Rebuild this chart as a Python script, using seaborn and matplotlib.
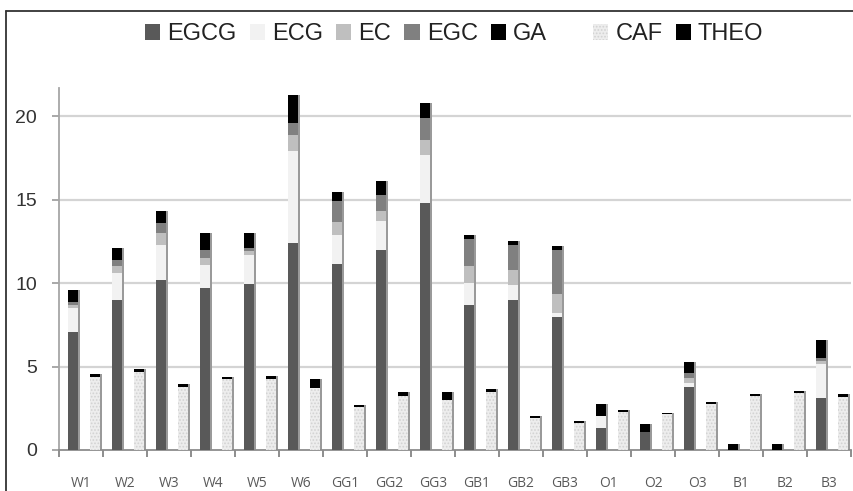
import numpy as np
import pandas as pd
import matplotlib
matplotlib.use("Agg")
import matplotlib.pyplot as plt
from matplotlib.patches import Patch
from matplotlib.lines import Line2D
import seaborn as sns

# ---- data ----
categories = ["W1", "W2", "W3", "W4", "W5", "W6", "GG1", "GG2", "GG3",
              "GB1", "GB2", "GB3", "O1", "O2", "O3", "B1", "B2", "B3"]
EGCG = [7.1, 9.0, 10.2, 9.7, 9.96, 12.4, 11.16, 12.0, 14.8, 8.7, 9.0, 8.0, 1.3, 1.1, 3.8, 0.0, 0.0, 3.1]
ECG = [1.4, 1.6, 2.1, 1.4, 1.74, 5.5, 1.7, 1.7, 2.9, 1.3, 0.9, 0.2, 0.76, 0.0, 0.24, 0.0, 0.0, 2.04]
EC = [0.2, 0.4, 0.7, 0.4, 0.2, 1.0, 0.8, 0.6, 0.9, 1.0, 0.9, 1.14, 0.0, 0.0, 0.26, 0.0, 0.0, 0.2]
EGC = [0.2, 0.4, 0.6, 0.5, 0.2, 0.7, 1.24, 1.0, 1.3, 1.66, 1.46, 2.66, 0.0, 0.0, 0.3, 0.0, 0.0, 0.16]
GA = [0.7, 0.7, 0.74, 1.0, 0.9, 1.7, 0.56, 0.8, 0.9, 0.24, 0.28, 0.24, 0.68, 0.44, 0.66, 0.34, 0.34, 1.1]
CAF = [4.4, 4.7, 3.8, 4.25, 4.26, 3.7, 2.55, 3.26, 3.0, 3.49, 1.92, 1.62, 2.28, 2.14, 2.74, 3.22, 3.42, 3.19]
THEO = [0.15, 0.15, 0.15, 0.15, 0.2, 0.54, 0.15, 0.2, 0.46, 0.15, 0.12, 0.12, 0.12, 0.1, 0.12, 0.12, 0.12, 0.15]
y_ticks = [0, 5, 10, 15, 20]

# ---- style ----
sns.set_theme(style="white")
plt.rcParams["font.family"] = ["Liberation Sans", "DejaVu Sans"]
plt.rcParams["hatch.linewidth"] = 0.8

colors = {"EGCG": "#595959", "ECG": "#f2f2f2", "EC": "#bfbfbf", "EGC": "#808080",
          "GA": "#000000", "CAF": "#ededed", "THEO": "#000000"}
hatch_color = "#d2d2d2"

fig = plt.figure(figsize=(8.54, 4.91), dpi=100)
ax = fig.add_axes([59 / 854, 41 / 491, 792 / 854, 362 / 491])

n = len(categories)
idx = np.arange(n)
left_pos = idx - 0.182
right_pos = idx + 0.318
bar_w = 0.227

# gridlines
for v in y_ticks[1:]:
    ax.axhline(v, color="#d4d4d4", lw=1.6, zorder=0)


def stacked(positions, layers):
    cum = np.zeros(n)
    tops = []
    for name, vals in layers:
        cum = cum + np.asarray(vals, float)
        tops.append((name, cum.copy()))
    # thin shaded right side (pseudo-3D edge)
    sdf = pd.DataFrame({"x": positions + 0.035, "y": tops[-1][1]})
    sns.barplot(data=sdf, x="x", y="y", native_scale=True, width=bar_w,
                color="#9a9a9a", saturation=1, errorbar=None, linewidth=0,
                ax=ax, zorder=2)
    # draw tallest cumulative first, then shorter ones over it
    for name, top in reversed(tops):
        df = pd.DataFrame({"x": positions, "y": top})
        n_before = len(ax.patches)
        sns.barplot(data=df, x="x", y="y", native_scale=True, width=bar_w,
                    color=colors[name], saturation=1, errorbar=None,
                    linewidth=0, ax=ax, zorder=3)
        if name == "CAF":
            for p in ax.patches[n_before:]:
                p.set_hatch(".....")
                p.set_edgecolor(hatch_color)
                p.set_linewidth(0)


stacked(left_pos, [("EGCG", EGCG), ("ECG", ECG), ("EC", EC), ("EGC", EGC), ("GA", GA)])
stacked(right_pos, [("CAF", CAF), ("THEO", THEO)])

# axes
ax.set_xlim(-0.5, n - 0.5)
ax.set_ylim(0, 21.7)
ax.set_xlabel("")
ax.set_ylabel("")
ax.set_yticks(y_ticks)
ax.set_yticklabels([str(v) for v in y_ticks])
ax.set_xticks(idx)
ax.set_xticklabels(categories, fontfamily=["Open Sans", "DejaVu Sans"], fontsize=10, color="#595959")
ax.set_xticks(np.arange(-0.5, n, 1.0), minor=True)
ax.tick_params(axis="x", which="major", length=0, pad=19)
ax.tick_params(axis="x", which="minor", length=5, width=1.2, color="#7a7a7a", direction="out")
ax.tick_params(axis="y", which="major", length=5, width=1.2, color="#9a9a9a", direction="out",
               labelsize=14, labelcolor="#333333", pad=11)
ax.tick_params(axis="x", which="both", bottom=True)
ax.tick_params(axis="y", left=True)
for s in ["top", "right"]:
    ax.spines[s].set_visible(False)
ax.spines["left"].set_color("#a6a6a6")
ax.spines["left"].set_linewidth(1.3)
ax.spines["bottom"].set_color("#8c8c8c")
ax.spines["bottom"].set_linewidth(1.3)
ax.grid(False)

# legends
def sq(name):
    if name == "CAF":
        return Patch(facecolor=colors[name], edgecolor=hatch_color, hatch=".....", linewidth=0)
    return Patch(facecolor=colors[name], edgecolor="none")

leg_kw = dict(frameon=False, fontsize=17, handlelength=0.65, handleheight=0.65,
              handletextpad=0.3, columnspacing=0.55, borderpad=0, borderaxespad=0,
              loc="center left")
names1 = ["EGCG", "ECG", "EC", "EGC", "GA"]
leg1 = fig.legend([sq(k) for k in names1], names1, ncol=5,
                  bbox_to_anchor=(145 / 854, 1 - 34 / 491), **leg_kw)
names2 = ["CAF", "THEO"]
leg2 = fig.legend([sq(k) for k in names2], names2, ncol=2,
                  bbox_to_anchor=(593 / 854, 1 - 34 / 491), **leg_kw)
for leg in (leg1, leg2):
    for t in leg.get_texts():
        t.set_color("#222222")

# outer frame (left and top edges visible)
fig.add_artist(Line2D([6 / 854, 6 / 854], [0, 1 - 11 / 491], transform=fig.transFigure,
                      color="#333333", lw=1.3))
fig.add_artist(Line2D([6 / 854, 1], [1 - 11 / 491, 1 - 11 / 491], transform=fig.transFigure,
                      color="#333333", lw=1.3))

fig.savefig("out.png", dpi=100, facecolor="white")
